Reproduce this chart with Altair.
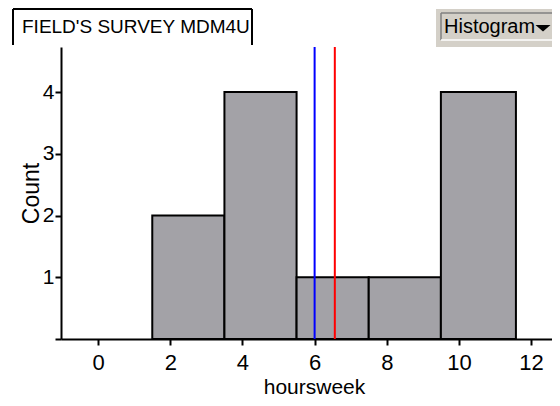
import altair as alt
import pandas as pd

# ---- data ----
bin_start = [1.5, 3.5, 5.5, 7.5, 9.5]
bin_end = [3.5, 5.5, 7.5, 9.5, 11.58]
counts = [2, 4, 1, 1, 4]
x_ticks = [0, 2, 4, 6, 8, 10, 12]
y_ticks = [0, 1, 2, 3, 4]
marker_values = [6.0, 6.56]
marker_colors = ["#0000ff", "#ff0000"]
title_text = "FIELD'S SURVEY MDM4U"
button_text = "Histogram"
x_title = "hoursweek"
y_title = "Count"

W, H = 491, 292
FONT = "Liberation Sans"

bars_df = pd.DataFrame({"start": bin_start, "end": bin_end, "count": counts})
lines_df = pd.DataFrame({"value": marker_values, "color": marker_colors})
one = pd.DataFrame({"a": [0]})

xscale = alt.Scale(domain=[-1.03, 12.58], nice=False, zero=False)
yscale = alt.Scale(domain=[0, 4.73], nice=False)

x_axis = alt.Axis(
    values=x_ticks, title=x_title, tickSize=6, labelFontSize=22, labelPadding=7,
    labelFlush=False, labelOverlap=False, titleFontSize=21, titleX=253, titleY=54,
    titleBaseline="alphabetic", titleAlign="center",
)
y_axis = alt.Axis(
    values=y_ticks, title=y_title, tickSize=6, labelFontSize=21, labelPadding=1,
    labelExpr="datum.value == 0 ? '' : datum.label", labelFlush=False,
    titleFontSize=23, titleAngle=270, titleX=-23, titleY=146,
    titleBaseline="alphabetic", titleAlign="center",
)

bars = alt.Chart(bars_df).mark_rect(fill="#a3a2a7", stroke="black", strokeWidth=2).encode(
    x=alt.X("start:Q", scale=xscale, axis=x_axis),
    x2="end:Q",
    y=alt.Y("count:Q", scale=yscale, axis=y_axis),
    y2=alt.datum(0),
)

markers = alt.Chart(lines_df).mark_rule(strokeWidth=2).encode(
    x=alt.X("value:Q", scale=xscale),
    color=alt.Color("color:N", scale=None),
)

def seg(x1, y1, x2, y2, color="black", width=2):
    return alt.Chart(one).mark_rule(color=color, strokeWidth=width).encode(
        x=alt.value(x1), y=alt.value(y1), x2=alt.value(x2), y2=alt.value(y2)
    )

# title tab (plot origin is at page x=61, y=47)
tab = seg(-48, -38, -48, -2) + seg(-48, -38, 191, -38) + seg(191, -38, 191, -2)
tab_text = alt.Chart(one).mark_text(
    text=title_text, align="left", baseline="alphabetic", fontSize=19, font=FONT, color="black"
).encode(x=alt.value(-39), y=alt.value(-14.5))

# histogram button
btn_bg = alt.Chart(one).mark_rect(fill="#d4d0c8").encode(
    x=alt.value(375), x2=alt.value(491), y=alt.value(-38), y2=alt.value(0)
)
btn_border = (
    seg(380, -34, 491, -34, "#808080", 1.5)
    + seg(380, -34, 380, -7, "#808080", 1.5)
    + seg(380, -7, 491, -7, "#ffffff", 1.5)
)
btn_text = alt.Chart(one).mark_text(
    text=button_text, align="left", baseline="alphabetic", fontSize=20, font=FONT, color="black"
).encode(x=alt.value(383), y=alt.value(-13.7))
btn_tri = alt.Chart(one).mark_point(
    shape="M-1,-0.4L1,-0.4L0,0.45Z", size=225, filled=True, color="black", opacity=1
).encode(x=alt.value(482), y=alt.value(-19))

chart = alt.layer(
    bars, markers, tab, tab_text, btn_bg, btn_border, btn_text, btn_tri
).properties(
    width=W, height=H,
    autosize=alt.AutoSizeParams(type="none"),
    padding={"left": 53, "top": 39, "right": 0, "bottom": 59},
    background="white",
).configure_view(stroke=None).configure_axis(
    domainColor="black", domainWidth=2, tickColor="black", tickWidth=2,
    labelColor="black", titleColor="black", labelFont=FONT, titleFont=FONT,
    titleFontWeight="normal", grid=False,
)

chart.save("out.html", embed_options={"renderer": "svg", "actions": False})
